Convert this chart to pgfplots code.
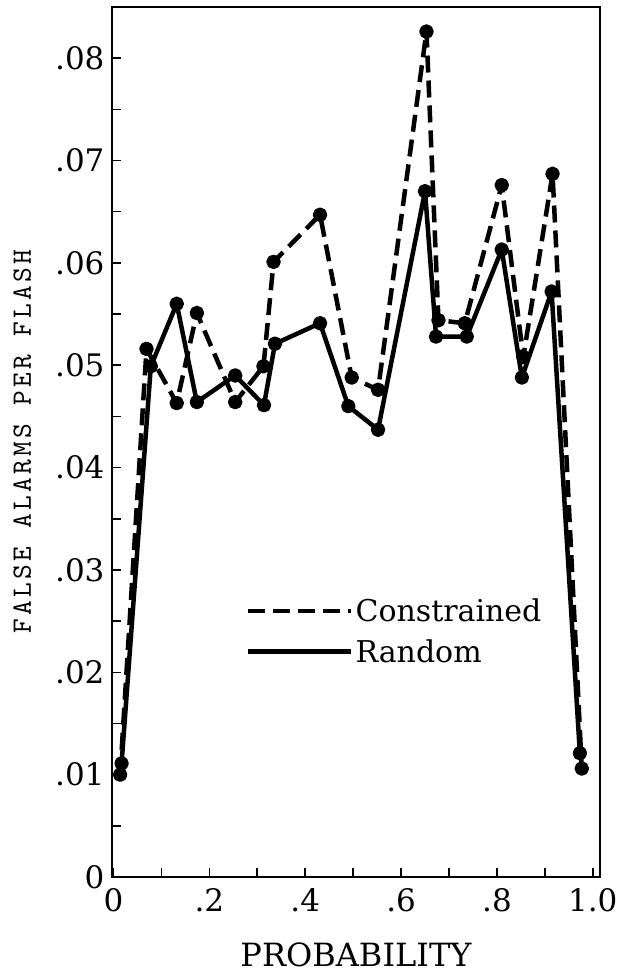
\documentclass[border=0pt]{standalone}
\usepackage{fontspec}
\setmainfont{DejaVu Serif}
\newfontfamily\monofont{lmmono10-regular}[Extension=.otf, LetterSpace=12]
\usepackage{pgfplots}
\pgfplotsset{compat=1.18}

\pgfplotstableread{
x y
0.014 0.0100
0.069 0.0516
0.132 0.0463
0.174 0.0551
0.254 0.0464
0.313 0.0499
0.334 0.0601
0.431 0.0647
0.497 0.0488
0.552 0.0476
0.653 0.0826
0.678 0.0544
0.733 0.0541
0.810 0.0676
0.855 0.0508
0.916 0.0687
0.977 0.0106
}\constrained

\pgfplotstableread{
x y
0.017 0.0111
0.078 0.0499
0.132 0.0560
0.174 0.0464
0.254 0.0490
0.314 0.0461
0.337 0.0521
0.431 0.0541
0.490 0.0460
0.552 0.0437
0.650 0.0670
0.673 0.0528
0.737 0.0528
0.810 0.0613
0.852 0.0488
0.914 0.0572
0.973 0.0121
}\random

\begin{document}
\begin{tikzpicture}
\begin{axis}[
  name=ax,
  scale only axis,
  width=488pt, height=870pt,
  xmin=-0.003, xmax=1.015,
  ymin=0, ymax=0.085,
  axis line style={line width=2pt},
  tick style={line width=1.5pt, black},
  major tick length=9pt,
  tick align=inside,
  xtick pos=bottom, ytick pos=left,
  xtick={0,0.1,0.2,0.3,0.4,0.5,0.6,0.7,0.8,0.9,1.0},
  xticklabels={\textrm{0},,\textrm{.2},,\textrm{.4},,\textrm{.6},,\textrm{.8},,\textrm{1.0}},
  ytick={0,0.005,0.01,0.015,0.02,0.025,0.03,0.035,0.04,0.045,0.05,0.055,0.06,0.065,0.07,0.075,0.08},
  yticklabels={\textrm{0},,\textrm{.01},,\textrm{.02},,\textrm{.03},,\textrm{.04},,\textrm{.05},,\textrm{.06},,\textrm{.07},,\textrm{.08}},
  ticklabel style={font=\fontsize{31}{31}\selectfont},
  xticklabel style={yshift=-8pt},
  yticklabel style={xshift=-4pt},
  xlabel={PROBABILITY},
  xlabel style={font=\fontsize{32}{32}\selectfont, at={(axis description cs:0.5,-0.0897)}, anchor=center},
  ylabel={FALSE ALARMS PER FLASH},
  ylabel style={font=\monofont\fontsize{28}{28}\selectfont, at={(axis description cs:-0.184,0.5)}, anchor=center},
  legend style={draw=none, fill=none, at={(axis cs:0.27,0.0240)}, anchor=west,
    font=\fontsize{30}{30}\selectfont, row sep=12pt},
  legend cell align=left,
  legend image code/.code={\draw[#1, mark=none, line cap=butt] (0pt,0pt) -- (95pt,0pt); \path (0pt,0pt) -- (103pt,0pt);},
]
\addplot[black, line width=4.5pt, dash pattern=on 17pt off 8pt, line join=round,
  mark=*, mark size=5pt, mark options={solid, fill=black}] table[x=x,y=y] {\constrained};
\addlegendentry{Constrained}
\addplot[black, line width=4.5pt, line join=round,
  mark=*, mark size=5pt, mark options={solid, fill=black}] table[x=x,y=y] {\random};
\addlegendentry{Random}
\end{axis}
\pgfresetboundingbox
\path ([shift={(-112pt,-97pt)}]ax.south west) rectangle ([shift={(17pt,7pt)}]ax.north east);
\end{tikzpicture}
\end{document}
